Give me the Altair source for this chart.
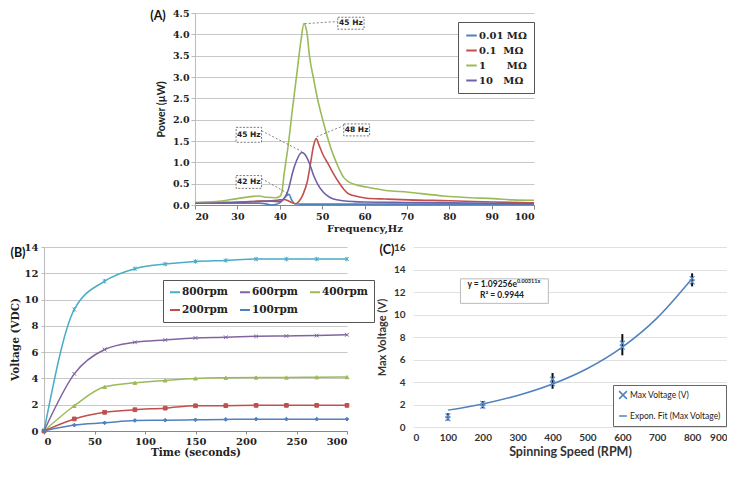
import altair as alt
import pandas as pd

SERIF = "DejaVu Serif"
SANS = "Lato"

# ---------------- Panel A data ----------------
namesA = ["0.01 MΩ", "0.1\u00a0\u00a0MΩ", "1\u00a0\u00a0\u00a0\u00a0\u00a0\u00a0MΩ", "10\u00a0\u00a0\u00a0MΩ"]
colorsA = ["#4f81bd", "#c0504d", "#9bbb59", "#7060a8"]

blue_f = [20, 30, 35, 37, 38, 39, 40, 41, 41.6, 42.2, 42.8, 43.5, 45, 50, 60, 70, 80, 90, 100]
blue_p = [0.04, 0.04, 0.04, 0.02, 0.0, 0.01, 0.05, 0.15, 0.22, 0.25, 0.12, 0.03, 0.02, 0.02, 0.02, 0.02, 0.02, 0.02, 0.02]

red_f = [20, 25, 30, 35, 38, 40, 41, 42, 43, 43.7, 44.5, 45.5, 46.5, 47.3, 48, 48.6, 49.2, 50.3, 51.5, 52.7, 54, 55.1, 56, 57.4, 60.5, 65, 70.4, 80, 90.5, 100]
red_p = [0.05, 0.06, 0.07, 0.09, 0.1, 0.12, 0.13, 0.1, 0.05, 0.03, 0.08, 0.25, 0.55, 1.0, 1.4, 1.56, 1.42, 1.16, 0.95, 0.73, 0.52, 0.37, 0.28, 0.22, 0.16, 0.14, 0.12, 0.1, 0.07, 0.05]

green_f = [20, 25, 30, 35, 37, 39, 40, 40.5, 41, 42, 43, 44, 45, 45.7, 46.4, 47, 48, 49, 50, 51, 52, 53, 54, 55, 56, 57.4, 60.5, 65, 70.4, 75, 78.7, 85, 90.5, 95, 100]
green_p = [0.06, 0.08, 0.15, 0.21, 0.18, 0.17, 0.2, 0.3, 0.7, 1.4, 2.25, 3.05, 3.85, 4.25, 4.05, 3.5, 2.95, 2.45, 2.05, 1.68, 1.35, 1.08, 0.85, 0.66, 0.56, 0.49, 0.42, 0.34, 0.3, 0.25, 0.21, 0.17, 0.15, 0.12, 0.11]

purple_f = [20, 30, 35, 38, 40, 41, 42, 42.5, 43, 44, 45.2, 46, 47, 48, 49, 50.3, 51.5, 52.7, 55, 57.4, 60, 70, 80, 90, 100]
purple_p = [0.04, 0.06, 0.08, 0.09, 0.08, 0.15, 0.35, 0.54, 0.75, 1.05, 1.23, 1.18, 0.98, 0.69, 0.48, 0.3, 0.2, 0.14, 0.1, 0.08, 0.07, 0.06, 0.05, 0.04, 0.03]

boxA_x1 = [53.7, 55.1, 29.7, 29.7]
boxA_x2 = [59.9, 61.2, 35.7, 35.7]
boxA_y1 = [4.40, 1.90, 1.82, 0.69]
boxA_y2 = [4.12, 1.62, 1.47, 0.39]
boxA_lab = ["45 Hz", "48 Hz", "45 Hz", "42 Hz"]
leadA_x1 = [45.9, 48.7, 35.7, 35.7]
leadA_y1 = [4.25, 1.60, 1.74, 0.62]
leadA_x2 = [53.7, 55.1, 45.3, 41.9]
leadA_y2 = [4.30, 1.86, 1.25, 0.27]

# ---------------- Panel B data ----------------
namesB = ["800rpm", "600rpm", "400rpm", "200rpm", "100rpm"]
colorsB = ["#4bacc6", "#8064a2", "#9bbb59", "#c0504d", "#4f81bd"]
timeB = [0, 30, 60, 90, 120, 150, 180, 210, 240, 270, 300]
v800 = [0, 9.25, 11.4, 12.35, 12.7, 12.9, 12.98, 13.08, 13.08, 13.08, 13.08]
v600 = [0, 4.35, 6.2, 6.75, 6.93, 7.08, 7.13, 7.2, 7.23, 7.26, 7.32]
v400 = [0, 1.92, 3.36, 3.67, 3.85, 4.0, 4.05, 4.07, 4.07, 4.09, 4.1]
v200 = [0, 0.92, 1.42, 1.62, 1.74, 1.92, 1.93, 1.95, 1.95, 1.95, 1.95]
v100 = [0, 0.45, 0.62, 0.8, 0.82, 0.85, 0.88, 0.9, 0.9, 0.9, 0.9]
seriesB = [v800, v600, v400, v200, v100]

# ---------------- Panel C data ----------------
speedC = [100, 100, 200, 200, 400, 400, 600, 600, 800, 800]
maxV = [1.0, 0.75, 2.1, 1.85, 4.25, 3.85, 7.45, 7.1, 13.2, 12.9]
err_x = [100, 200, 400, 600, 800]
err_lo = [0.58, 1.66, 3.4, 6.37, 12.5]
err_hi = [1.22, 2.3, 4.8, 8.26, 13.66]
fit_x = [100, 200, 300, 400, 500, 600, 700, 800]
fit_y = [1.5, 2.05, 2.8, 3.82, 5.2, 7.1, 9.7, 13.2]
namesC = ["Max Voltage (V)", "Expon. Fit (Max Voltage)"]

# ================= Panel A =================
dfA = pd.DataFrame({
    "f": blue_f + red_f + green_f + purple_f,
    "p": blue_p + red_p + green_p + purple_p,
    "s": [namesA[0]] * len(blue_f) + [namesA[1]] * len(red_f)
         + [namesA[2]] * len(green_f) + [namesA[3]] * len(purple_f),
})

scXA = alt.Scale(domain=[20, 100], nice=False)
scYA = alt.Scale(domain=[0, 4.5], nice=False)
axXA = alt.Axis(values=list(range(20, 101, 10)), title="Frequency,Hz", grid=False, labelOverlap=False,
                domainColor="#888", tickColor="#888", tickSize=4, labelPadding=2,
                labelFont=SERIF, labelFontWeight="bold", labelFontSize=9.5, labelColor="#222",
                titleFont=SERIF, titleFontWeight="bold", titleFontSize=10, titleColor="#222",
                titlePadding=3)
axYA = alt.Axis(values=[0, 0.5, 1, 1.5, 2, 2.5, 3, 3.5, 4, 4.5], format=".1f", title="Power (µW)",
                labelOverlap=False,
                domainColor="#bbb", tickColor="#bbb", tickSize=4, gridColor="#c8c8c8",
                labelFont=SERIF, labelFontWeight="bold", labelFontSize=9.5, labelColor="#222",
                titleFont=SANS, titleFontWeight="bold", titleFontSize=10.5, titleColor="#222",
                titlePadding=6)


def XA(f):
    return alt.X(f, scale=scXA, axis=axXA)


def YA(f):
    return alt.Y(f, scale=scYA, axis=axYA)


lineA = alt.Chart(dfA).mark_line(interpolate="monotone", strokeWidth=1.6).encode(
    x=XA("f:Q"), y=YA("p:Q"),
    color=alt.Color("s:N", scale=alt.Scale(domain=namesA, range=colorsA),
                    legend=alt.Legend(title=None, orient="none", legendX=414, legendY=9,
                                      strokeColor="#555", fillColor="white", padding=7,
                                      labelFont=SERIF, labelFontWeight="bold", labelFontSize=10,
                                      labelColor="#222", symbolType="stroke", symbolStrokeWidth=2,
                                      symbolSize=110, rowPadding=3, labelOffset=1)),
    order=alt.Order("f:Q"),
)

dfLeadA = pd.DataFrame({"x": leadA_x1, "y": leadA_y1, "x2": leadA_x2, "y2": leadA_y2})
leadA = alt.Chart(dfLeadA).mark_rule(color="#666", strokeDash=[2, 2], strokeWidth=0.8).encode(
    x=XA("x:Q"), y=YA("y:Q"), x2="x2:Q", y2="y2:Q")

dfBoxA = pd.DataFrame({"x": boxA_x1, "x2": boxA_x2, "y": boxA_y1, "y2": boxA_y2, "label": boxA_lab})
dfBoxA["tx"] = (dfBoxA["x"] + dfBoxA["x2"]) / 2
dfBoxA["ty"] = (dfBoxA["y"] + dfBoxA["y2"]) / 2
boxA = alt.Chart(dfBoxA).mark_rect(fill="white", stroke="#555", strokeDash=[2, 1.5], strokeWidth=0.8).encode(
    x=XA("x:Q"), x2="x2:Q", y=YA("y:Q"), y2="y2:Q")
boxTxtA = alt.Chart(dfBoxA).mark_text(font="DejaVu Sans", fontWeight="bold", fontSize=7.5, color="#222").encode(
    x=XA("tx:Q"), y=YA("ty:Q"), text="label:N")

tagA = alt.Chart(pd.DataFrame({"t": ["(A)"]})).mark_text(
    font=SANS, fontWeight="bold", fontSize=12.5, color="#111", align="center", baseline="middle"
).encode(x=alt.value(-37), y=alt.value(3), text="t:N")

A = alt.layer(lineA, leadA, boxA, boxTxtA, tagA).properties(width=339, height=192)

# ================= Panel B =================
dfB = pd.DataFrame({
    "t": timeB * 5,
    "v": v800 + v600 + v400 + v200 + v100,
    "s": sum([[n] * len(timeB) for n in namesB], []),
})
shapesB = ["M-1,-1L1,1M-1,1L1,-1M0,-1.2L0,1.2", "M-1,-1L1,1M-1,1L1,-1", "triangle-up", "square", "diamond"]

scXB = alt.Scale(domain=[0, 300], nice=False)
scYB = alt.Scale(domain=[0, 14], nice=False)
axXB = alt.Axis(values=list(range(0, 301, 50)), title="Time (seconds)", grid=False, labelOverlap=False,
                domainColor="#888", tickColor="#888", tickSize=3, labelPadding=2,
                labelFont=SERIF, labelFontWeight="bold", labelFontSize=10, labelColor="#222",
                titleFont=SERIF, titleFontWeight="bold", titleFontSize=10.5, titleColor="#222",
                titlePadding=1)
axYB = alt.Axis(values=list(range(0, 15, 2)), title="Voltage (VDC)", labelOverlap=False,
                domainColor="#bbb", tickColor="#bbb", tickSize=3, gridColor="#c8c8c8", labelPadding=3,
                labelFont=SERIF, labelFontWeight="bold", labelFontSize=10, labelColor="#222",
                titleFont=SERIF, titleFontWeight="bold", titleFontSize=10.5, titleColor="#222",
                titlePadding=4)
colB = alt.Scale(domain=namesB, range=colorsB)
lineB = alt.Chart(dfB).mark_line(interpolate="monotone", strokeWidth=1.5).encode(
    x=alt.X("t:Q", scale=scXB, axis=axXB), y=alt.Y("v:Q", scale=scYB, axis=axYB),
    color=alt.Color("s:N", scale=colB,
                    legend=alt.Legend(title=None, orient="none", legendX=119, legendY=33, columns=3,
                                      direction="horizontal",
                                      strokeColor="#555", fillColor="white", padding=6,
                                      columnPadding=8, rowPadding=6,
                                      labelFont=SERIF, labelFontWeight="bold", labelFontSize=10.5,
                                      labelColor="#222", symbolType="stroke", symbolStrokeWidth=2,
                                      symbolSize=100, labelOffset=1)),
)
ptLayers = []
for name, vals, col, shp in zip(namesB, seriesB, colorsB, shapesB):
    dfp = pd.DataFrame({"t": timeB, "v": vals})
    ptLayers.append(
        alt.Chart(dfp).mark_point(filled=True, size=14, strokeWidth=1, opacity=1, color=col, stroke=col,
                                  shape=shp).encode(x=alt.X("t:Q", scale=scXB, axis=axXB),
                                                    y=alt.Y("v:Q", scale=scYB, axis=axYB)))
tagB = alt.Chart(pd.DataFrame({"t": ["(B)"]})).mark_text(
    font=SANS, fontWeight="bold", fontSize=12.5, color="#111", align="center", baseline="middle"
).encode(x=alt.value(-26), y=alt.value(6), text="t:N")

B = alt.layer(lineB, *ptLayers, tagB).properties(width=303, height=184)

# ================= Panel C =================
dfFit = pd.DataFrame({"x": fit_x, "y": fit_y})
dfPts = pd.DataFrame({"x": speedC, "y": maxV, "s": [namesC[0]] * len(speedC)})
dfErr = pd.DataFrame({"x": err_x, "lo": err_lo, "hi": err_hi})

scXC = alt.Scale(domain=[0, 900], nice=False)
scYC = alt.Scale(domain=[0, 16], nice=False)
axXC = alt.Axis(values=list(range(0, 901, 100)), title="Spinning Speed (RPM)", grid=False,
                domain=False, ticks=False, labelPadding=5, labelOverlap=False,
                labelFont=SANS, labelFontWeight="bold", labelFontSize=10, labelColor="#333",
                titleFont=SANS, titleFontWeight="bold", titleFontSize=12.5, titleColor="#333",
                titlePadding=3)
axYC = alt.Axis(values=list(range(0, 17, 2)), title="Max Voltage (V)", domain=False, ticks=False,
                gridColor="#e0e0e0", labelPadding=8, labelOverlap=False,
                labelFont=SANS, labelFontWeight="bold", labelFontSize=10, labelColor="#333",
                titleFont=SANS, titleFontWeight="bold", titleFontSize=11, titleColor="#333",
                titlePadding=6)


def XC(f):
    return alt.X(f, scale=scXC, axis=axXC)


def YC(f):
    return alt.Y(f, scale=scYC, axis=axYC)


fitC = alt.Chart(dfFit).mark_line(interpolate="monotone", color="#4f81bd", strokeWidth=1.5).encode(
    x=XC("x:Q"), y=YC("y:Q"))
errC = alt.Chart(dfErr).mark_rule(color="#111", strokeWidth=2).encode(x=XC("x:Q"), y=YC("lo:Q"), y2="hi:Q")
ptsC = alt.Chart(dfPts).mark_point(filled=False, size=24, strokeWidth=1.2, color="#5b8fd0", opacity=1).encode(
    x=XC("x:Q"), y=YC("y:Q"),
    shape=alt.Shape("s:N", scale=alt.Scale(domain=namesC, range=["M-1,-1L1,1M-1,1L1,-1", "stroke"]),
                    legend=alt.Legend(title=None, orient="none", legendX=200, legendY=138,
                                      strokeColor="#666", fillColor="white", padding=5, rowPadding=9,
                                      labelFont=SANS, labelFontSize=8.5, labelColor="#222",
                                      symbolStrokeColor="#4f81bd", symbolFillColor="transparent",
                                      symbolStrokeWidth=1.5, symbolSize=60, labelOffset=2)),
)

eqBox = alt.Chart(pd.DataFrame({"x": [136], "x2": [388], "y": [13.17], "y2": [10.99]})).mark_rect(
    fill="white", stroke="#bbb", strokeWidth=1).encode(x=XC("x:Q"), x2="x2:Q", y=YC("y:Q"), y2="y2:Q")
eqT1 = alt.Chart(pd.DataFrame({"x": [298], "y": [12.72], "t": ["y = 1.09256e"]})).mark_text(
    font=SANS, fontWeight="bold", fontSize=8.5, color="#222", align="right", baseline="middle").encode(
    x=XC("x:Q"), y=YC("y:Q"), text="t:N")
eqT1s = alt.Chart(pd.DataFrame({"x": [298], "y": [12.95], "t": ["0.00311x"]})).mark_text(
    font=SANS, fontWeight="bold", fontSize=5.5, color="#222", align="left", baseline="middle").encode(
    x=XC("x:Q"), y=YC("y:Q"), text="t:N")
eqT2 = alt.Chart(pd.DataFrame({"x": [255], "y": [11.75], "t": ["R² = 0.9944"]})).mark_text(
    font=SANS, fontWeight="bold", fontSize=8.5, color="#222", align="center", baseline="middle").encode(
    x=XC("x:Q"), y=YC("y:Q"), text="t:N")
tagC = alt.Chart(pd.DataFrame({"t": ["(C)"]})).mark_text(
    font=SANS, fontWeight="bold", fontSize=12.5, color="#111", align="center", baseline="middle"
).encode(x=alt.value(-26), y=alt.value(3), text="t:N")

C = alt.layer(fitC, errC, ptsC, eqBox, eqT1, eqT1s, eqT2, tagC).properties(width=314, height=180)

# ================= Layout =================
spacer = alt.Chart(pd.DataFrame({"a": [0]})).mark_point(opacity=0).encode(
    x=alt.X("a:Q", axis=None), y=alt.Y("a:Q", axis=None)).properties(width=85, height=192)

top = alt.hconcat(spacer, A, spacing=66, bounds="flush")
bottom = alt.hconcat(B, C, spacing=66, bounds="flush").resolve_scale(color="independent", shape="independent")

chart = alt.vconcat(top, bottom, spacing=8) \
    .resolve_scale(color="independent", shape="independent") \
    .properties(padding={"left": 2, "top": 0, "right": 0, "bottom": 0}, background="white") \
    .configure_view(stroke=None)

chart.save("out.html", embed_options={"renderer": "svg", "actions": False})
